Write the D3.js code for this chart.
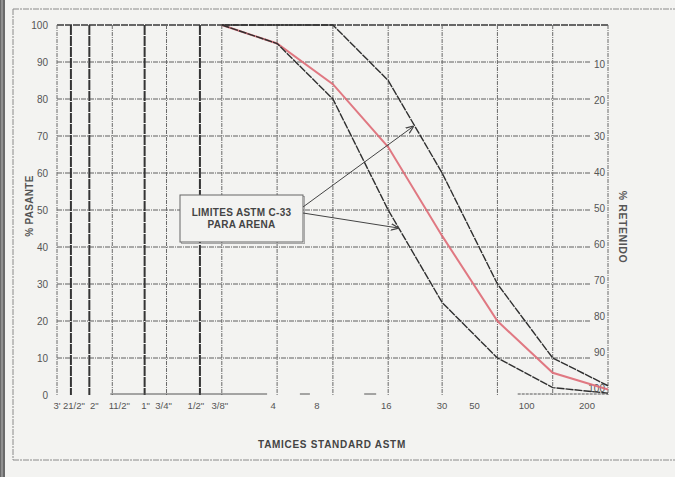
<!DOCTYPE html>
<html>
<head>
<meta charset="utf-8">
<script src="https://cdn.jsdelivr.net/npm/d3@7"></script>
<style>
  html, body { margin: 0; padding: 0; background: #f3f3f1; }
  svg { display: block; }
  text { font-family: "Liberation Sans", Arial, sans-serif; }
</style>
</head>
<body>
<svg id="chart" width="675" height="477"></svg>
<script>
// ---------------- DATA ----------------
const sieveLabels = ["3'", "21/2\"", "2\"", "11/2\"", "1\"", "3/4\"", "1/2\"", "3/8\"", "4", "8", "16", "30", "50", "100", "200"];
const sieveMM = [75, 63, 50, 37.5, 25, 19, 12.5, 9.5, 4.75, 2.36, 1.18, 0.6, 0.3, 0.15, 0.075];
const curveSieves = [9.5, 4.75, 2.36, 1.18, 0.6, 0.3, 0.15, 0.075];
const upperLimit = [100, 100, 100, 85, 60, 30, 10, 2.5];
const lowerLimit = [100, 95, 80, 50, 25, 10, 2, 0.5];
const sample     = [100, 95, 84, 67, 43, 20, 6, 1.5];
const passTicks = [0, 10, 20, 30, 40, 50, 60, 70, 80, 90, 100];
const retTicks  = [10, 20, 30, 40, 50, 60, 70, 80, 90, 100];
const legendLines = ["LIMITES ASTM C-33", "PARA ARENA"];

// ---------------- LAYOUT / STYLE ----------------
const svg = d3.select("#chart");
const W = 675, H = 477;
const x = d3.scaleLog().domain([75, 0.075]).range([57, 608]);
const y = d3.scaleLinear().domain([0, 100]).range([395, 25]);
const yRet = d3.scaleLinear().domain([0, 100]).range([29, 388]);
const thickSieves = new Set([63, 50, 25, 12.5]);
const labelNudge = [0, 3, 5, 7, 1, -3, -4, -2, -4, -16, -2, 0, -23, -26, -21];

// scan background
svg.append("rect").attr("width", W).attr("height", H).attr("fill", "#f3f3f1");
svg.append("rect").attr("x", 0).attr("y", 0).attr("width", 5).attr("height", H).attr("fill", "#6a6a6a");
svg.append("rect").attr("x", 1.5).attr("y", 0).attr("width", 1).attr("height", H).attr("fill", "#b5b5b5");

// outer frame
const frame = svg.append("g").attr("stroke", "#8a8a8a").attr("stroke-width", 1).attr("fill", "none")
  .attr("stroke-dasharray", "6,1,2,1");
frame.append("line").attr("x1", 13).attr("x2", W).attr("y1", 9).attr("y2", 9);
frame.append("line").attr("x1", 13).attr("x2", W).attr("y1", 460).attr("y2", 460);
frame.append("line").attr("x1", 13).attr("x2", 13).attr("y1", 9).attr("y2", 460);

// horizontal grid
const grid = svg.append("g");
grid.selectAll("line.h").data(passTicks.filter(d => d > 0 && d < 100)).join("line")
  .attr("x1", x(75)).attr("x2", x(0.075) - 17)
  .attr("y1", d => y(d)).attr("y2", d => y(d))
  .attr("stroke", "#5e5e5e").attr("stroke-width", 1).attr("stroke-dasharray", "5,1,1,1");
// top line
grid.append("line").attr("x1", x(75)).attr("x2", x(0.075))
  .attr("y1", y(100)).attr("y2", y(100))
  .attr("stroke", "#3a3a3a").attr("stroke-width", 1.4).attr("stroke-dasharray", "7,1");

// vertical grid lines
grid.selectAll("line.v").data(sieveMM).join("line")
  .attr("x1", d => x(d)).attr("x2", d => x(d))
  .attr("y1", y(100)).attr("y2", y(0))
  .attr("stroke", d => thickSieves.has(d) ? "#353535" : "#6a6a6a")
  .attr("stroke-width", d => thickSieves.has(d) ? 2 : 1)
  .attr("stroke-dasharray", d => thickSieves.has(d) ? "10,1" : "4,1,1,1");

// bottom baseline fragments
const base = svg.append("g").attr("stroke", "#555").attr("stroke-width", 1);
base.append("line").attr("x1", x(37.5) - 2).attr("x2", x(4.75) - 10).attr("y1", y(0) - 1).attr("y2", y(0) - 1);
base.append("line").attr("x1", x(2.36) - 33).attr("x2", x(2.36) - 23).attr("y1", y(0) - 1).attr("y2", y(0) - 1);
base.append("line").attr("x1", x(1.18) - 24).attr("x2", x(1.18) - 12).attr("y1", y(0) - 1).attr("y2", y(0) - 1);
base.append("line").attr("x1", x(0.15) - 35).attr("x2", x(0.075)).attr("y1", y(0) - 1).attr("y2", y(0) - 1)
  .attr("stroke-dasharray", "3,1");

// left axis labels
svg.append("g").selectAll("text").data(passTicks).join("text")
  .attr("x", 48).attr("y", d => y(d)).attr("dy", "0.35em")
  .attr("text-anchor", "end").attr("font-size", 10).attr("fill", "#555")
  .text(d => d);

// right axis labels
svg.append("g").selectAll("text").data(retTicks).join("text")
  .attr("x", 605).attr("y", d => yRet(d)).attr("dy", "0.35em")
  .attr("text-anchor", "end").attr("font-size", 10).attr("fill", "#555")
  .text(d => d);

// bottom labels
svg.append("g").selectAll("text").data(sieveLabels).join("text")
  .attr("x", (d, i) => x(sieveMM[i]) + labelNudge[i]).attr("y", 409)
  .attr("text-anchor", "middle").attr("font-size", 9.5).attr("fill", "#555")
  .text(d => d);

// axis titles
svg.append("text").attr("transform", "translate(33,206) rotate(-90)")
  .attr("text-anchor", "middle").attr("font-size", 10).attr("font-weight", "bold").attr("fill", "#555")
  .attr("letter-spacing", 0.3)
  .text("% PASANTE");
svg.append("text").attr("transform", "translate(619,227) rotate(90)")
  .attr("text-anchor", "middle").attr("font-size", 10.5).attr("font-weight", "bold").attr("fill", "#555")
  .attr("letter-spacing", 0.6)
  .text("% RETENIDO");
svg.append("text").attr("x", 332).attr("y", 448)
  .attr("text-anchor", "middle").attr("font-size", 10).attr("font-weight", "bold").attr("fill", "#444")
  .attr("letter-spacing", 0.7)
  .text("TAMICES STANDARD ASTM");

// curves
const line = d3.line().x(d => x(d[0])).y(d => y(d[1]));
const zip = vals => curveSieves.map((s, i) => [s, vals[i]]);
svg.append("path").datum(zip(sample)).attr("d", line)
  .attr("fill", "none").attr("stroke", "#de6a75").attr("stroke-width", 2).attr("stroke-opacity", 0.9);
[upperLimit, lowerLimit].forEach(v => {
  svg.append("path").datum(zip(v)).attr("d", line)
    .attr("fill", "none").attr("stroke", "#2f2f2f").attr("stroke-width", 1.4)
    .attr("stroke-dasharray", "8,1");
});

// arrow marker
svg.append("defs").append("marker").attr("id", "arr")
  .attr("viewBox", "0 0 10 10").attr("refX", 9).attr("refY", 5)
  .attr("markerWidth", 8).attr("markerHeight", 8).attr("orient", "auto")
  .append("path").attr("d", "M0,1 L10,5 L0,9").attr("fill", "none").attr("stroke", "#444").attr("stroke-width", 1.5);

// legend box
const bx = 180, by = 195, bw = 123, bh = 47;
svg.append("rect").attr("x", bx + 1.5).attr("y", by + 1.5).attr("width", bw).attr("height", bh)
  .attr("fill", "none").attr("stroke", "#aaa");
svg.append("rect").attr("x", bx).attr("y", by).attr("width", bw).attr("height", bh)
  .attr("fill", "#f3f3f1").attr("stroke", "#666").attr("stroke-width", 1);
svg.append("g").selectAll("text").data(legendLines).join("text")
  .attr("x", bx + bw / 2).attr("y", (d, i) => by + 21 + i * 12)
  .attr("text-anchor", "middle").attr("font-size", 10).attr("font-weight", "bold").attr("fill", "#444")
  .attr("letter-spacing", 0.3)
  .text(d => d);

// arrows from box to the limit curves
const arrows = svg.append("g").attr("stroke", "#444").attr("stroke-width", 1).attr("fill", "none");
arrows.append("line").attr("x1", bx + bw).attr("y1", by + 12)
  .attr("x2", x(1.18) + 25).attr("y2", y(upperLimit[3]) + 46).attr("marker-end", "url(#arr)");
arrows.append("line").attr("x1", bx + bw).attr("y1", by + 18)
  .attr("x2", x(1.18) + 10).attr("y2", y(lowerLimit[3]) + 18).attr("marker-end", "url(#arr)");
</script>
</body>
</html>
